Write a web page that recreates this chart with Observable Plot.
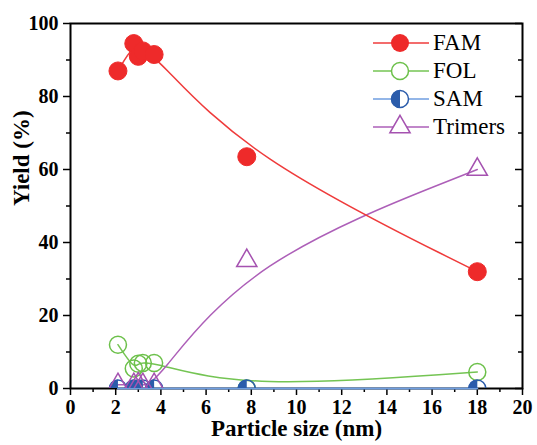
<!DOCTYPE html>
<html><head><meta charset="utf-8">
<script src="https://cdn.jsdelivr.net/npm/d3@7"></script>
<script src="https://cdn.jsdelivr.net/npm/@observablehq/plot@0.6"></script>
<style>
html,body{margin:0;padding:0;background:#fff;}
#wrap{position:relative;width:537px;height:445px;}
#legend{position:absolute;left:373px;top:29px;font-family:"Liberation Serif","Times New Roman",serif;font-size:23px;color:#000;}
#legend .row{display:flex;align-items:center;height:28px;}
#legend svg{display:block;margin-right:4px;}
</style></head>
<body><div id="wrap"></div>
<script>
const particleSize = [2.1, 2.8, 3.0, 3.2, 3.7, 7.8, 18];
const famYield = [87, 94.5, 91, 92.5, 91.5, 63.5, 32];
const folYield = [12, 5.5, 6.8, 7, 7, 0, 4.5];
const samYield = [0, 0, 0, 0, 0, 0, 0];
const trimerYield = [1, 1, 1.2, 1, 1, 35, 60];
const seriesNames = ["FAM", "FOL", "SAM", "Trimers"];
const seriesColors = ["#ee2a2a", "#6cc04a", "#2b5cab", "#a552b0"];
const lineColors = ["#ef3b3b", "#74c453", "#6f9ee0", "#ad5fb8"];
const xMajorTicks = [0, 2, 4, 6, 8, 10, 12, 14, 16, 18, 20];
const xMinorTicks = [1, 3, 5, 7, 9, 11, 13, 15, 17, 19];
const yMajorTicks = [0, 20, 40, 60, 80, 100];
const yMinorTicks = [10, 30, 50, 70, 90];
const xLabel = "Particle size (nm)";
const yLabel = "Yield (%)";

const rows = (vals) => particleSize.map((x, i) => ({x, y: vals[i]}));
const fam = rows(famYield), fol = rows(folYield), sam = rows(samYield), tri = rows(trimerYield);

const leftHalf = {draw(ctx, size) {
  const r = Math.sqrt(size / Math.PI);
  ctx.moveTo(0, -r);
  ctx.arc(0, 0, r, -Math.PI / 2, Math.PI / 2, true);
  ctx.closePath();
}};

const chart = Plot.plot({
  width: 537, height: 445,
  marginLeft: 70, marginRight: 15, marginTop: 23, marginBottom: 57,
  style: {fontFamily: "Liberation Serif, Times New Roman, serif", background: "#fff", color: "#000"},
  x: {domain: [0, 20]},
  y: {domain: [0, 100]},
  marks: [
    Plot.line(fol, {x: "x", y: "y", curve: "basis", stroke: lineColors[1], strokeWidth: 1.5, clip: true}),
    Plot.line(tri, {x: "x", y: "y", curve: "basis", stroke: lineColors[3], strokeWidth: 1.5, clip: true}),
    Plot.line(fam, {x: "x", y: "y", curve: "basis", stroke: lineColors[0], strokeWidth: 1.5, clip: true}),
    Plot.dot(fam, {x: "x", y: "y", r: 9, fill: seriesColors[0], stroke: seriesColors[0], strokeWidth: 1, clip: true}),
    Plot.dot(fol, {x: "x", y: "y", r: 8.5, fill: "none", stroke: seriesColors[1], strokeWidth: 1.5, clip: true}),
    Plot.axisX(xMajorTicks, {tickSize: 7, strokeWidth: 1.5, fontSize: 20, fontWeight: "bold", tickPadding: 4, label: null, tickFormat: d => String(d)}),
    Plot.axisX(xMinorTicks, {tickSize: 4, strokeWidth: 1.5, fill: "none", label: null}),
    Plot.axisY(yMajorTicks, {tickSize: 7, strokeWidth: 1.5, fontSize: 20, fontWeight: "bold", tickPadding: 5, label: null, tickFormat: d => String(d)}),
    Plot.axisY(yMinorTicks, {tickSize: 4, strokeWidth: 1.5, fill: "none", label: null}),
    Plot.axisY(yMajorTicks, {anchor: "left", frameAnchor: "right", tickSize: 7, strokeWidth: 1.5, fill: "none", label: null}),
    Plot.axisY(yMinorTicks, {anchor: "left", frameAnchor: "right", tickSize: 4, strokeWidth: 1.5, fill: "none", label: null}),
    Plot.frame({stroke: "#000", strokeWidth: 2}),
    Plot.line(sam, {x: "x", y: "y", curve: "basis", stroke: lineColors[2], strokeWidth: 2}),
    Plot.dot(sam, {x: "x", y: "y", r: 9, symbol: leftHalf, fill: seriesColors[2], stroke: "none", clip: true}),
    Plot.dot(sam, {x: "x", y: "y", r: 8.5, fill: "none", stroke: seriesColors[2], strokeWidth: 1.5, clip: true}),
    Plot.dot(tri, {x: "x", y: "y", r: 7.5, symbol: "triangle", fill: "none", stroke: seriesColors[3], strokeWidth: 1.5, clip: true}),
    Plot.text([xLabel], {frameAnchor: "bottom", dy: 47, fontSize: 23, fontWeight: "bold", fill: "#000"}),
    Plot.text([yLabel], {frameAnchor: "left", dx: -49, rotate: -90, fontSize: 23, fontWeight: "bold", fill: "#000"})
  ]
});
const wrap = document.getElementById("wrap");
wrap.appendChild(chart);

// legend
const legend = d3.select(wrap).append("div").attr("id", "legend");
seriesNames.forEach((name, i) => {
  const row = legend.append("div").attr("class", "row");
  const svg = row.append("svg").attr("width", 56).attr("height", 28);
  svg.append("line").attr("x1", 0).attr("x2", 56).attr("y1", 14).attr("y2", 14)
    .attr("stroke", lineColors[i]).attr("stroke-width", 1.5);
  const c = seriesColors[i];
  if (i === 0) {
    svg.append("circle").attr("cx", 27).attr("cy", 14).attr("r", 9).attr("fill", c);
  } else if (i === 1) {
    svg.append("circle").attr("cx", 27).attr("cy", 14).attr("r", 8.5).attr("fill", "#fff").attr("stroke", c).attr("stroke-width", 1.5);
  } else if (i === 2) {
    svg.append("circle").attr("cx", 27).attr("cy", 14).attr("r", 8.5).attr("fill", "#fff").attr("stroke", c).attr("stroke-width", 1.5);
    const p = d3.path(); leftHalf.draw(p, 9 * 9 * Math.PI);
    svg.append("path").attr("d", p.toString()).attr("transform", "translate(27,14)").attr("fill", c);
  } else {
    svg.append("path").attr("d", d3.symbol(d3.symbolTriangle, 7.5 * 7.5 * Math.PI)()).attr("transform", "translate(27,14)")
      .attr("fill", "#fff").attr("stroke", c).attr("stroke-width", 1.5);
  }
  row.append("span").text(name);
});
</script>
</body></html>
